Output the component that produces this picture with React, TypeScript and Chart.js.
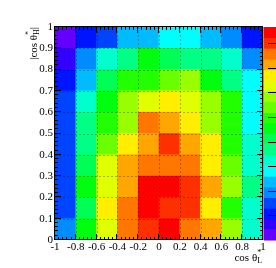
import { useEffect, useRef } from "react";
import { Chart, registerables } from "chart.js";
Chart.register(...registerables);

// bin centres along cos θ*_L
const xCenters = [-0.9, -0.7, -0.5, -0.3, -0.1, 0.1, 0.3, 0.5, 0.7, 0.9];
// bin edges along |cos θ*_H|
const yEdges = [0, 0.1, 0.2, 0.3, 0.4, 0.5, 0.6, 0.7, 0.8, 0.9, 1];
// tick labels
const xTickValues = [-1, -0.8, -0.6, -0.4, -0.2, 0, 0.2, 0.4, 0.6, 0.8, 1];
const yTickValues = [0, 0.1, 0.2, 0.3, 0.4, 0.5, 0.6, 0.7, 0.8, 0.9, 1];
const paletteTicks = [1, 2, 3, 4, 5, 6, 7, 8];

// z values, one row per |cos θ*_H| bin (bottom to top), columns along cos θ*_L
const zRow0 = [1.95, 4.55, 6.28, 7.58, 8.01, 8.44, 7.58, 7.14, 5.85, 3.25];
const zRow1 = [1.52, 4.11, 6.71, 7.58, 8.44, 8.01, 8.01, 6.71, 4.98, 3.25];
const zRow2 = [1.52, 4.55, 6.28, 7.14, 8.44, 8.44, 8.01, 7.14, 5.85, 3.68];
const zRow3 = [1.52, 4.11, 6.28, 7.14, 7.58, 7.58, 7.58, 6.71, 5.41, 3.25];
const zRow4 = [1.52, 3.68, 5.41, 6.71, 7.14, 8.01, 7.14, 6.71, 4.98, 3.25];
const zRow5 = [1.52, 3.68, 4.98, 5.85, 7.58, 7.14, 6.71, 5.85, 4.98, 2.81];
const zRow6 = [1.52, 3.25, 4.55, 5.85, 6.28, 6.71, 6.28, 5.85, 4.98, 2.81];
const zRow7 = [1.08, 2.38, 4.11, 4.98, 4.98, 5.41, 5.85, 4.55, 3.68, 2.81];
const zRow8 = [0.65, 1.95, 3.25, 3.68, 4.55, 4.11, 3.68, 3.68, 3.25, 1.95];
const zRow9 = [0.22, 1.08, 1.52, 2.38, 2.38, 2.81, 2.81, 2.38, 1.95, 1.08];
const zRows = [zRow0, zRow1, zRow2, zRow3, zRow4, zRow5, zRow6, zRow7, zRow8, zRow9];

const Z_MAX = 8.66;
const N_LEVELS = 20;
const N_COLORS = 50;

function levelColor(level: number) {
  const idx = Math.floor((level + 0.99) * N_COLORS / N_LEVELS);
  const hue = 280 - (idx + 1) * 280 / N_COLORS;
  return `hsl(${hue},100%,50%)`;
}
function zColor(z: number) {
  const level = Math.min(N_LEVELS - 1, Math.max(0, Math.floor((z / Z_MAX) * N_LEVELS)));
  return levelColor(level);
}

const FONT = "'Liberation Serif', 'DejaVu Serif', serif";

function fmt(v: number) {
  if (Math.abs(v) < 1e-9) return "0";
  return Number(v).toFixed(1).replace(/\.0$/, "");
}

type Part = { t: string; sup?: string; sub?: string };
function richWidth(ctx: CanvasRenderingContext2D, parts: Part[], size: number) {
  let w = 0;
  for (const p of parts) {
    ctx.font = `${size}px ${FONT}`;
    w += ctx.measureText(p.t).width;
    ctx.font = `${size * 0.72}px ${FONT}`;
    const a = p.sup ? ctx.measureText(p.sup).width : 0;
    const b = p.sub ? ctx.measureText(p.sub).width : 0;
    w += Math.max(a, b);
  }
  return w;
}
function drawRich(ctx: CanvasRenderingContext2D, parts: Part[], xEnd: number, y: number, size: number) {
  let x = xEnd - richWidth(ctx, parts, size);
  ctx.textBaseline = "alphabetic";
  ctx.textAlign = "left";
  ctx.fillStyle = "#000";
  for (const p of parts) {
    ctx.font = `${size}px ${FONT}`;
    ctx.fillText(p.t, x, y);
    x += ctx.measureText(p.t).width;
    ctx.font = `${size * 0.72}px ${FONT}`;
    let a = 0, b = 0;
    if (p.sup) { ctx.fillText(p.sup, x, y - size * 0.55); a = ctx.measureText(p.sup).width; }
    if (p.sub) { ctx.fillText(p.sub, x, y + size * 0.15); b = ctx.measureText(p.sub).width; }
    x += Math.max(a, b);
  }
}

const rootDecor = {
  id: "rootDecor",
  afterDatasetsDraw(chart: any) {
    const { ctx, chartArea: a, scales } = chart;
    const x = scales.x, y = scales.y;
    ctx.save();
    // dotted grid
    ctx.strokeStyle = "rgba(0,0,0,0.28)";
    ctx.lineWidth = 1;
    ctx.setLineDash([2, 2]);
    ctx.beginPath();
    for (const v of xTickValues.slice(1, -1)) {
      const px = Math.round(x.getPixelForValue(v)) + 0.5;
      ctx.moveTo(px, a.top); ctx.lineTo(px, a.bottom);
    }
    for (const v of yTickValues.slice(1, -1)) {
      const py = Math.round(y.getPixelForValue(v)) + 0.5;
      ctx.moveTo(a.left, py); ctx.lineTo(a.right, py);
    }
    ctx.stroke();
    ctx.setLineDash([]);
    // ticks
    ctx.strokeStyle = "#000";
    ctx.beginPath();
    for (let i = 0; i <= 50; i++) {
      const v = -1 + i * 0.04;
      const len = i % 5 === 0 ? 6 : 3;
      const px = Math.round(x.getPixelForValue(v)) - 0.5;
      ctx.moveTo(px, a.bottom); ctx.lineTo(px, a.bottom - len);
      ctx.moveTo(px, a.top); ctx.lineTo(px, a.top + len);
    }
    for (let i = 0; i <= 50; i++) {
      const v = i * 0.02;
      const len = i % 5 === 0 ? 6 : 3;
      const py = Math.round(y.getPixelForValue(v)) - 0.5;
      ctx.moveTo(a.left, py); ctx.lineTo(a.left + len, py);
      ctx.moveTo(a.right, py); ctx.lineTo(a.right - len, py);
    }
    ctx.stroke();
    // frame
    ctx.strokeStyle = "#000";
    ctx.strokeRect(a.left - 0.5, a.top - 0.5, a.right - a.left, a.bottom - a.top);
    // palette
    const pw = chart.width;
    const h = (a.bottom - a.top) / N_LEVELS;
    for (let k = 0; k < N_LEVELS; k++) {
      ctx.fillStyle = levelColor(k);
      const y0 = a.bottom - (k + 1) * h;
      ctx.fillRect(a.right + 1, y0, pw - a.right - 1, h + 0.5);
    }
    ctx.strokeStyle = "#999";
    ctx.beginPath();
    ctx.moveTo(a.right + 0.5, a.top); ctx.lineTo(a.right + 0.5, a.bottom);
    ctx.stroke();
    ctx.strokeStyle = "#000";
    ctx.beginPath();
    for (const t of paletteTicks) {
      const py = Math.round(a.bottom - (t / Z_MAX) * (a.bottom - a.top)) + 0.5;
      ctx.moveTo(pw - 8, py); ctx.lineTo(pw, py);
    }
    ctx.stroke();
    // axis titles
    drawRich(ctx, [{ t: "cos θ", sup: "*", sub: "L" }], a.right - 1, 261, 11);
    ctx.save();
    ctx.translate(37, a.top);
    ctx.rotate(-Math.PI / 2);
    drawRich(ctx, [{ t: "|cos θ", sup: "*", sub: "H" }, { t: "|" }], 0, 0, 11);
    ctx.restore();
    ctx.restore();
  },
};

export default function App() {
  const ref = useRef<HTMLCanvasElement>(null);
  useEffect(() => {
    document.body.style.margin = "0";
    const datasets = zRows.map((row, r) => ({
      data: xCenters.map((xc) => ({ x: xc, y: [yEdges[r], yEdges[r + 1]] })),
      backgroundColor: row.map(zColor),
      borderWidth: 0,
      barPercentage: 1,
      categoryPercentage: 1,
      grouped: false,
    }));
    const chart = new Chart(ref.current as HTMLCanvasElement, {
      type: "bar",
      data: { datasets: datasets as any },
      options: {
        animation: false,
        responsive: false,
        layout: { padding: { top: 27, right: 13, left: 0, bottom: 0 } },
        plugins: { legend: { display: false }, tooltip: { enabled: false } },
        scales: {
          x: {
            type: "linear",
            min: -1,
            max: 1,
            offset: false,
            grid: { display: false, drawTicks: false },
            border: { display: false },
            afterFit: (s: any) => { s.height = 28; },
            afterBuildTicks: (s: any) => { s.ticks = xTickValues.map((v) => ({ value: v })); },
            ticks: {
              autoSkip: false,
              maxRotation: 0,
              padding: 1,
              color: "#000",
              font: { family: FONT, size: 11 },
              callback: (v: any) => fmt(Number(v)),
            },
          },
          y: {
            type: "linear",
            min: 0,
            max: 1,
            grid: { display: false, drawTicks: false },
            border: { display: false },
            afterFit: (s: any) => { s.width = 55; },
            afterBuildTicks: (s: any) => { s.ticks = yTickValues.map((v) => ({ value: v })); },
            ticks: {
              autoSkip: false,
              padding: 2,
              color: "#000",
              font: { family: FONT, size: 11 },
              callback: (v: any) => fmt(Number(v)),
            },
          },
        },
      },
      plugins: [rootDecor],
    });
    return () => chart.destroy();
  }, []);
  return (
    <div style={{ width: 276, height: 268 }}>
      <canvas ref={ref} width={276} height={268} style={{ display: "block" }} />
    </div>
  );
}
